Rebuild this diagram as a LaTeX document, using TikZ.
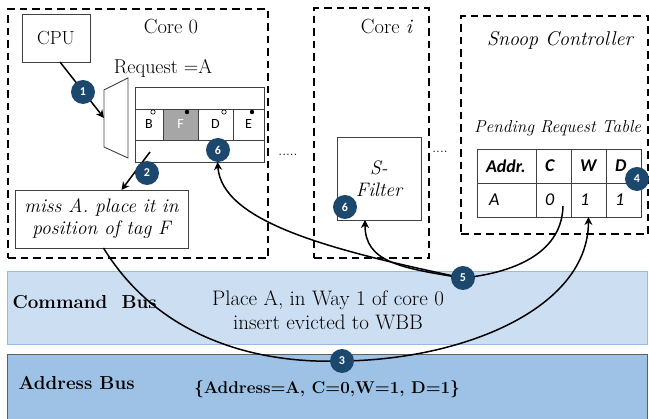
\documentclass[tikz,border=0pt]{standalone}
\usepackage{fontspec}
\newfontfamily\carlito{Carlito}
\usetikzlibrary{arrows.meta,positioning}
\definecolor{stepblue}{RGB}{29,72,110}
\definecolor{cmdblue}{RGB}{204,222,242}
\definecolor{cmdedge}{RGB}{150,186,228}
\definecolor{addrblue}{RGB}{157,194,229}
\definecolor{addredge}{RGB}{95,95,95}
\definecolor{wayfill}{RGB}{166,166,166}
\def\fs#1#2{\fontsize{#1}{#2}\selectfont}

\begin{document}
\begin{tikzpicture}[x=1pt,y=-1pt,font=\fs{20}{24},
  core/.style={draw,line width=2.2pt,dash pattern=on 7.5pt off 5pt,anchor=north west,inner sep=0pt},
  unit/.style={draw=black!75,line width=0.9pt,fill=white,inner sep=0pt,outer sep=0pt},
  way/.style={unit,minimum height=31pt,font=\carlito\fs{14}{16}},
  cell/.style={unit,minimum height=34pt,inner xsep=9pt,align=left,font=\carlito\fs{18}{20}},
  bus/.style={line width=1pt,anchor=north west,minimum width=640pt,inner sep=0pt},
  badge/.style={circle,fill=stepblue,text=white,inner sep=0pt,minimum size=24pt,font=\carlito\bfseries\fs{12}{14}},
  flow/.style={line width=1.5pt,-{Stealth[length=8pt,width=8pt,inset=2.5pt]}},
  dots/.style={font=\fs{14}{16}}]%<<<
\useasboundingbox (0,0) rectangle (649,419);
% buses
\node[bus,fill=cmdblue,draw=cmdedge,minimum height=73pt] (cmdbus) at (7,271) {};
\node[bus,fill=addrblue,draw=addredge,minimum height=75pt] (addrbus) at (7,354) {};
\node[anchor=west,font=\bfseries\fs{18.8}{22}] (cmdlbl) at (9,302) {Command\ \ Bus};
\node[anchor=west,font=\bfseries\fs{18.8}{22}] (addrlbl) at (15,383) {Address Bus};
\node[align=center,font=\fs{21}{24}] (cmdtxt) at (328,310) {Place A, in Way 1 of core 0\\insert evicted to WBB};
\node[font=\bfseries\fs{17}{20}] (addrtxt) at (327,389) {\{Address=A, C=0,W=1, D=1\}};
% core 0
\node[core,minimum width=260pt,minimum height=249pt] (core0) at (7,8) {};
\node[font=\fs{20.5}{24}] (core0lbl) at (171,27) {Core 0};
\node[unit,minimum width=68pt,minimum height=48pt,font=\fs{19}{22}] (cpu) at (56,38) {CPU};
\node (request) at (163,68) {Request =A};
\draw[draw=black!75,line width=0.9pt] (104,90) -- (128,78) -- (128,158) -- (104,147) -- cycle;
\coordinate (muxin) at (104,118);
\node[unit,anchor=north west,minimum width=129pt,minimum height=22pt] (ctop) at (135,87) {};
\node[way,anchor=north west,minimum width=28pt] (wayB) at (ctop.south west) {B};
\node[way,minimum width=35pt,fill=wayfill,text=white,right=0pt of wayB] (wayF) {F};
\node[way,minimum width=35pt,right=0pt of wayF] (wayD) {D};
\node[way,minimum width=31pt,right=0pt of wayD] (wayE) {E};
\node[unit,anchor=north west,minimum width=129pt,minimum height=22pt] (cbot) at (wayB.south west) {};
\draw[fill=white,line width=0.6pt] (153,112) circle (2.2pt) (224,112) circle (2.2pt);
\fill (187,112) circle (2.2pt) (252,112) circle (2.2pt);
\coordinate (tagpick) at (150,152);
\node[unit,minimum width=173pt,minimum height=58pt,align=center,font=\itshape\fs{19.5}{22}] (miss) at (101.5,219) {miss A. place it in\\position of tag F};
\node[dots] (dots0) at (288,155) {.....};
% core i
\node[core,minimum width=115pt,minimum height=250pt] (corei) at (313,7) {};
\node[font=\fs{20.5}{24}] (coreilbl) at (387,27) {Core \textit{i}};
\node[unit,minimum width=84pt,minimum height=83pt,align=center,font=\itshape\fs{19.5}{22}] (sfilter) at (379,178.5) {S-\\Filter};
\node[dots] (dotsi) at (440,152) {....};
% snoop controller
\node[core,minimum width=187pt,minimum height=218pt] (snoop) at (460,15) {};
\node[font=\itshape\fs{20}{24}] (snooplbl) at (560,40) {Snoop Controller};
\node[anchor=west,inner sep=0pt,font=\itshape\fs{17.3}{20}] (prtlbl) at (474,128) {Pending Request Table};
\node[cell,anchor=north west,text width=41pt,font=\carlito\bfseries\itshape\fs{18}{20}] (hAddr) at (477,149) {Addr.};
\node[cell,text width=17pt,font=\carlito\bfseries\itshape\fs{18}{20},right=0pt of hAddr] (hC) {C};
\node[cell,text width=17pt,font=\carlito\bfseries\itshape\fs{18}{20},right=0pt of hC] (hW) {W};
\node[cell,text width=17pt,font=\carlito\bfseries\itshape\fs{18}{20},right=0pt of hW] (hD) {D};
\node[cell,anchor=north west,text width=41pt,font=\carlito\itshape\fs{18}{20}] (vAddr) at (hAddr.south west) {\hspace{3pt}A};
\node[cell,text width=17pt,font=\carlito\itshape\fs{18}{20},right=0pt of vAddr] (vC) {0};
\node[cell,text width=17pt,font=\carlito\itshape\fs{18}{20},right=0pt of vC] (vW) {1};
\node[cell,text width=17pt,font=\carlito\itshape\fs{18}{20},right=0pt of vW] (vD) {1};
\coordinate (cpick) at (563,206);
% flows
\coordinate (m1) at (83,92);
\coordinate (m2) at (147,173);
\coordinate (m3) at (342,361);
\coordinate (m5) at (463,278);
\draw[flow] ([xshift=4pt]cpu.south) -- (muxin);
\draw[flow] (tagpick) -- ([xshift=20pt]miss.north);
\draw[flow] ([xshift=2pt]miss.south) .. controls (160,340) and (260,364) .. (m3)
  .. controls (460,360) and (588,310) .. (vW.south);
\draw[line width=1.5pt] (cpick) .. controls (562,250) and (520,272) .. (m5);
\draw[flow] (m5) .. controls (400,268) and (365,262) .. ([xshift=-14pt]sfilter.south);
\draw[flow] (m5) .. controls (330,250) and (222,222) .. ([xshift=18pt]cbot.south);
% steps
\node[badge] (b1) at (m1) {1};
\node[badge] (b2) at (m2) {2};
\node[badge] (b3) at (m3) {3};
\node[badge] (b4) at (637,179) {4};
\node[badge] (b5) at (m5) {5};
\node[badge] (b6c) at (218,150) {6};
\node[badge] (b6s) at (345,207) {6};
\end{tikzpicture}
\end{document}
